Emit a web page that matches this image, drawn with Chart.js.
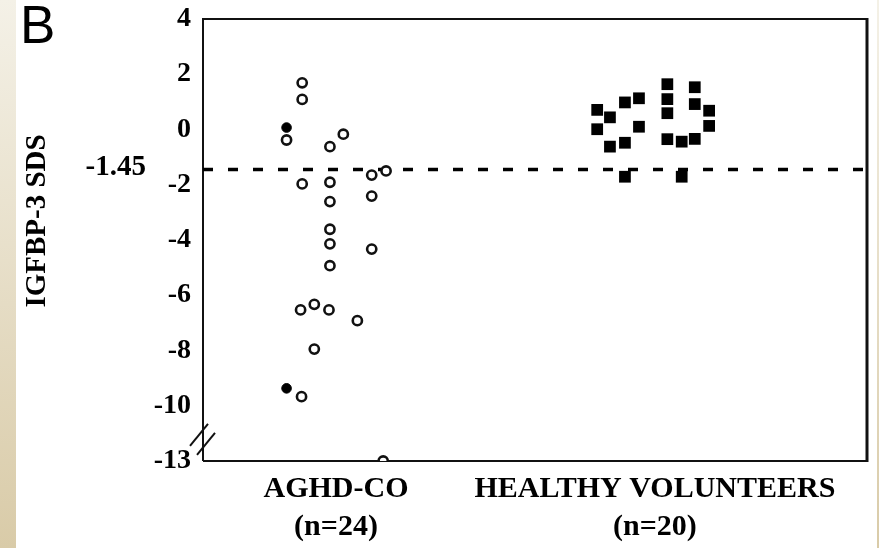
<!DOCTYPE html>
<html>
<head>
<meta charset="utf-8">
<script src="https://cdn.jsdelivr.net/npm/chart.js@4"></script>
<style>
  html, body { margin: 0; padding: 0; }
  body { width: 879px; height: 548px; position: relative; overflow: hidden;
         background: linear-gradient(#f4f1e7, #d9cba8); }
  #paper { position: absolute; left: 16px; top: 0; width: 861px; height: 548px; background: #fff; }
  #myChart { position: absolute; left: 0; top: 0; }
</style>
</head>
<body>
<div id="paper"></div>
<canvas id="myChart" width="879" height="548"></canvas>
<script>
// group labels (x) and y tick labels
const groupLabels = [['AGHD-CO', '(n=24)'], ['HEALTHY VOLUNTEERS', '(n=20)']];
const yTickLabels = [4, 2, 0, -2, -4, -6, -8, -10, -13];
const cutoff = -1.45;

// AGHD-CO: jitter offset from group centre, IGFBP-3 SDS (open circles)
const aghdX = [-0.155, -0.106, -0.106, -0.019, 0.023, -0.106, -0.019, -0.019, 0.112, 0.157, 0.112,
	-0.019, -0.019, 0.112, -0.019, -0.111, -0.068, -0.022, 0.067, -0.068, -0.108, 0.148];
const aghdY = [-0.38, 1.69, 1.09, -0.62, -0.17, -1.97, -1.91, -2.61, -1.65, -1.50, -2.41,
	-3.61, -4.14, -4.33, -4.93, -6.53, -6.33, -6.53, -6.92, -7.95, -9.67, -13];
// AGHD-CO filled circles
const aghdFilledX = [-0.155, -0.155];
const aghdFilledY = [0.07, -9.37];

// healthy volunteers
const healthyX = [-0.181, -0.141, -0.181, -0.094, -0.050, -0.050, -0.141, -0.094, -0.094, 0.039,
	0.039, 0.039, 0.039, 0.084, 0.125, 0.125, 0.125, 0.170, 0.170, 0.084];
const healthyY = [0.71, 0.44, 0.01, 0.98, 1.13, 0.10, -0.62, -0.48, -1.71, 1.64,
	1.10, 0.59, -0.35, -0.44, -0.34, 1.53, 0.92, 0.68, 0.13, -1.71];

const groupCentres = [0, 1];
const xMin = -0.417, xMax = 1.665;

// axis is broken below -10: -10..-13 squeezed into 2 units
const toAxis = v => (v >= -10 ? v : -10 + (v + 10) * 2 / 3);
const pts = (xs, ys, g) => xs.map((x, i) => ({ x: groupCentres[g] + x, y: toAxis(ys[i]) }));

const serif = 'Liberation Serif';

const extras = {
	id: 'extras',
	beforeDatasetsDraw(chart) {
		const { ctx, chartArea: a } = chart;
		ctx.save();
		ctx.strokeStyle = '#111';
		ctx.lineWidth = 2;
		ctx.beginPath();
		ctx.moveTo(a.left, a.bottom); ctx.lineTo(a.left, a.top); ctx.lineTo(a.right, a.top);
		ctx.moveTo(a.left, a.bottom); ctx.lineTo(a.right, a.bottom);
		ctx.stroke();
		ctx.lineWidth = 3;
		ctx.beginPath();
		ctx.moveTo(a.right, a.top - 1); ctx.lineTo(a.right, a.bottom + 1);
		ctx.stroke();
		ctx.restore();
	},
	afterDraw(chart) {
		const { ctx, scales } = chart;
		const y = scales.y;
		ctx.save();
		ctx.fillStyle = '#000';
		// panel letter
		ctx.font = '53px "Liberation Sans"';
		ctx.textAlign = 'left';
		ctx.textBaseline = 'alphabetic';
		ctx.fillText('B', 20, 43);
		// cutoff label
		ctx.font = 'bold 29px "' + serif + '"';
		ctx.textAlign = 'right';
		ctx.textBaseline = 'middle';
		ctx.fillText(String(cutoff), 146, y.getPixelForValue(cutoff) - 2);
		// y title
		ctx.translate(38, 221);
		ctx.rotate(-Math.PI / 2);
		ctx.textAlign = 'center';
		ctx.font = 'bold 29px "' + serif + '"';
		ctx.fillText('IGFBP-3 SDS', 0, 0);
		ctx.restore();
		// break marks
		ctx.save();
		ctx.strokeStyle = '#111';
		ctx.lineWidth = 2;
		const bx = scales.x.left;
		const by = y.getPixelForValue(-11.2);
		[[-4, -4], [3, 5]].forEach(([dx, dy]) => {
			ctx.beginPath();
			ctx.moveTo(bx + dx - 9, by + dy + 11);
			ctx.lineTo(bx + dx + 9, by + dy - 11);
			ctx.stroke();
		});
		ctx.restore();
	}
};

const ctx = document.getElementById('myChart').getContext('2d');
let myChart = new Chart(ctx, {
	type: 'scatter',
	data: {
		datasets: [
			{
				label: 'AGHD-CO filled',
				data: pts(aghdFilledX, aghdFilledY, 0),
				pointStyle: 'circle',
				pointRadius: 4.8,
				pointBackgroundColor: '#000',
				pointBorderColor: '#000',
				pointBorderWidth: 1
			},
			{
				label: 'AGHD-CO',
				data: pts(aghdX, aghdY, 0),
				pointStyle: 'circle',
				pointRadius: 4.6,
				pointBackgroundColor: '#fff',
				pointBorderColor: '#111',
				pointBorderWidth: 2.6
			},
			{
				label: 'Healthy volunteers',
				data: pts(healthyX, healthyY, 1),
				pointStyle: 'rect',
				pointRadius: 8.3,
				pointBackgroundColor: '#000',
				pointBorderColor: '#000',
				pointBorderWidth: 0
			},
			{
				type: 'line',
				label: 'cutoff',
				data: [{ x: xMin, y: cutoff }, { x: xMax, y: cutoff }],
				borderColor: '#000',
				borderWidth: 3.5,
				borderDash: [10, 15],
				pointRadius: 0
			}
		]
	},
	options: {
		responsive: false,
		animation: false,
		devicePixelRatio: 1,
		layout: { padding: { left: 0, top: 19, right: 12, bottom: 0 } },
		plugins: { legend: { display: false }, tooltip: { enabled: false } },
		scales: {
			x: {
				type: 'linear',
				min: xMin,
				max: xMax,
				grid: { display: false },
				border: { display: false },
				afterBuildTicks: s => { s.ticks = groupCentres.map(v => ({ value: v })); },
				afterFit: s => { s.height = 87; s.paddingLeft = 0; s.paddingRight = 0; },
				ticks: {
					autoSkip: false,
					maxRotation: 0,
					padding: 1,
					color: '#000',
					font: { family: serif, weight: 'bold', size: 30, lineHeight: 1.27 },
					callback: (v, i) => groupLabels[i]
				}
			},
			y: {
				min: -12,
				max: 4,
				grid: { display: false },
				border: { display: false },
				afterBuildTicks: s => { s.ticks = yTickLabels.map(v => ({ value: toAxis(v) })); },
				afterFit: s => { s.width = 203; s.paddingTop = 0; s.paddingBottom = 0; },
				ticks: {
					padding: 4,
					color: '#000',
					font: { family: serif, weight: 'bold', size: 28 },
					callback: (v, i) => yTickLabels[i]
				}
			}
		}
	},
	plugins: [extras]
});
</script>
</body>
</html>
